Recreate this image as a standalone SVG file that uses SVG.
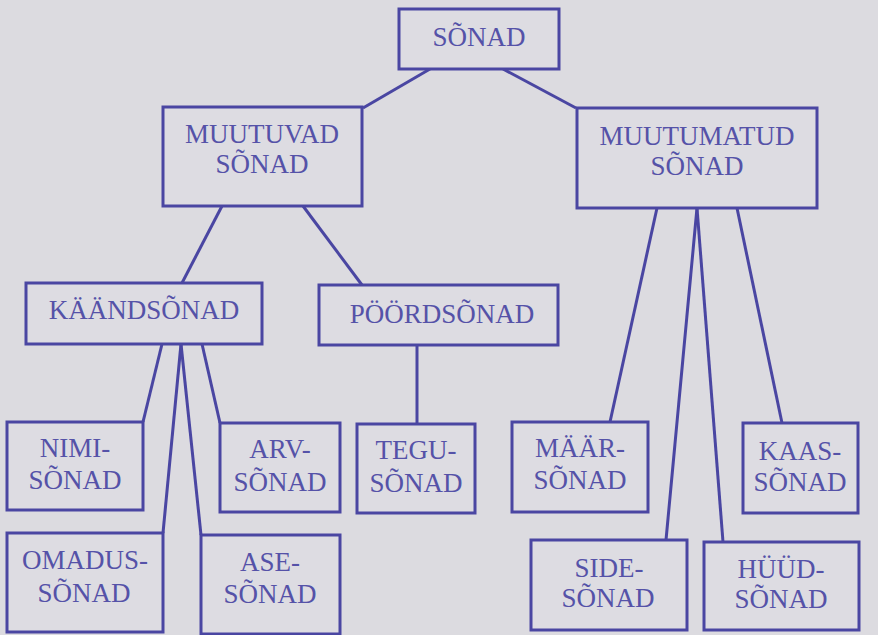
<svg xmlns="http://www.w3.org/2000/svg" width="878" height="635" viewBox="0 0 878 635">
<style>
.bg{fill:#dcdbe0}
.box{fill:#dddce2;stroke:#4a46a2;stroke-width:3}
.lbl{font-family:"Liberation Serif","Times New Roman",serif;font-size:27px;fill:#5552a8;text-anchor:middle}
.con{fill:none;stroke:#4a46a2;stroke-width:3}
</style>
<rect class="bg" x="0" y="0" width="878" height="635"/>
<g id="connectors">
<line class="con" x1="430" y1="69" x2="363" y2="108"/>
<line class="con" x1="503" y1="69" x2="576" y2="108"/>
<line class="con" x1="222" y1="206" x2="182" y2="283"/>
<line class="con" x1="303" y1="206" x2="362" y2="285"/>
<line class="con" x1="162" y1="344" x2="143" y2="422"/>
<line class="con" x1="181" y1="344" x2="163" y2="533"/>
<line class="con" x1="181" y1="344" x2="201" y2="535"/>
<line class="con" x1="202" y1="344" x2="220" y2="423"/>
<line class="con" x1="417" y1="345" x2="417" y2="424"/>
<line class="con" x1="657" y1="208" x2="610" y2="422"/>
<line class="con" x1="697" y1="208" x2="666" y2="540"/>
<line class="con" x1="697" y1="208" x2="723" y2="542"/>
<line class="con" x1="737" y1="208" x2="782" y2="423"/>
</g>
<g id="sonad"><rect class="box" x="399" y="9" width="160" height="60"/><text class="lbl" x="479" y="46">SÕNAD</text></g>
<g id="muutuvad"><rect class="box" x="163" y="107" width="199" height="99"/><text class="lbl" x="262" y="143">MUUTUVAD</text><text class="lbl" x="262" y="173">SÕNAD</text></g>
<g id="muutumatud"><rect class="box" x="577" y="108" width="240" height="100"/><text class="lbl" x="697" y="145">MUUTUMATUD</text><text class="lbl" x="697" y="175">SÕNAD</text></g>
<g id="kaandsonad"><rect class="box" x="26" y="283" width="236" height="61"/><text class="lbl" x="144" y="319">KÄÄNDSÕNAD</text></g>
<g id="poordsonad"><rect class="box" x="319" y="285" width="239" height="60"/><text class="lbl" x="442" y="323">PÖÖRDSÕNAD</text></g>
<g id="nimisonad"><rect class="box" x="7" y="422" width="136" height="88"/><text class="lbl" x="75" y="457">NIMI-</text><text class="lbl" x="75" y="489">SÕNAD</text></g>
<g id="arvsonad"><rect class="box" x="220" y="423" width="120" height="89"/><text class="lbl" x="280" y="458">ARV-</text><text class="lbl" x="280" y="491">SÕNAD</text></g>
<g id="omadussonad"><rect class="box" x="7" y="533" width="156" height="99"/><text class="lbl" x="85" y="569">OMADUS-</text><text class="lbl" x="84" y="602">SÕNAD</text></g>
<g id="asesonad"><rect class="box" x="201" y="535" width="139" height="99"/><text class="lbl" x="270" y="571">ASE-</text><text class="lbl" x="270" y="603">SÕNAD</text></g>
<g id="tegusonad"><rect class="box" x="357" y="424" width="118" height="89"/><text class="lbl" x="416" y="459">TEGU-</text><text class="lbl" x="416" y="492">SÕNAD</text></g>
<g id="maarsonad"><rect class="box" x="512" y="422" width="136" height="90"/><text class="lbl" x="580" y="457">MÄÄR-</text><text class="lbl" x="580" y="489">SÕNAD</text></g>
<g id="kaassonad"><rect class="box" x="743" y="423" width="115" height="90"/><text class="lbl" x="800" y="460">KAAS-</text><text class="lbl" x="800" y="491">SÕNAD</text></g>
<g id="sidesonad"><rect class="box" x="531" y="540" width="156" height="90"/><text class="lbl" x="609" y="577">SIDE-</text><text class="lbl" x="608" y="607">SÕNAD</text></g>
<g id="huudsonad"><rect class="box" x="704" y="542" width="155" height="88"/><text class="lbl" x="781" y="578">HÜÜD-</text><text class="lbl" x="781" y="608">SÕNAD</text></g>
</svg>
